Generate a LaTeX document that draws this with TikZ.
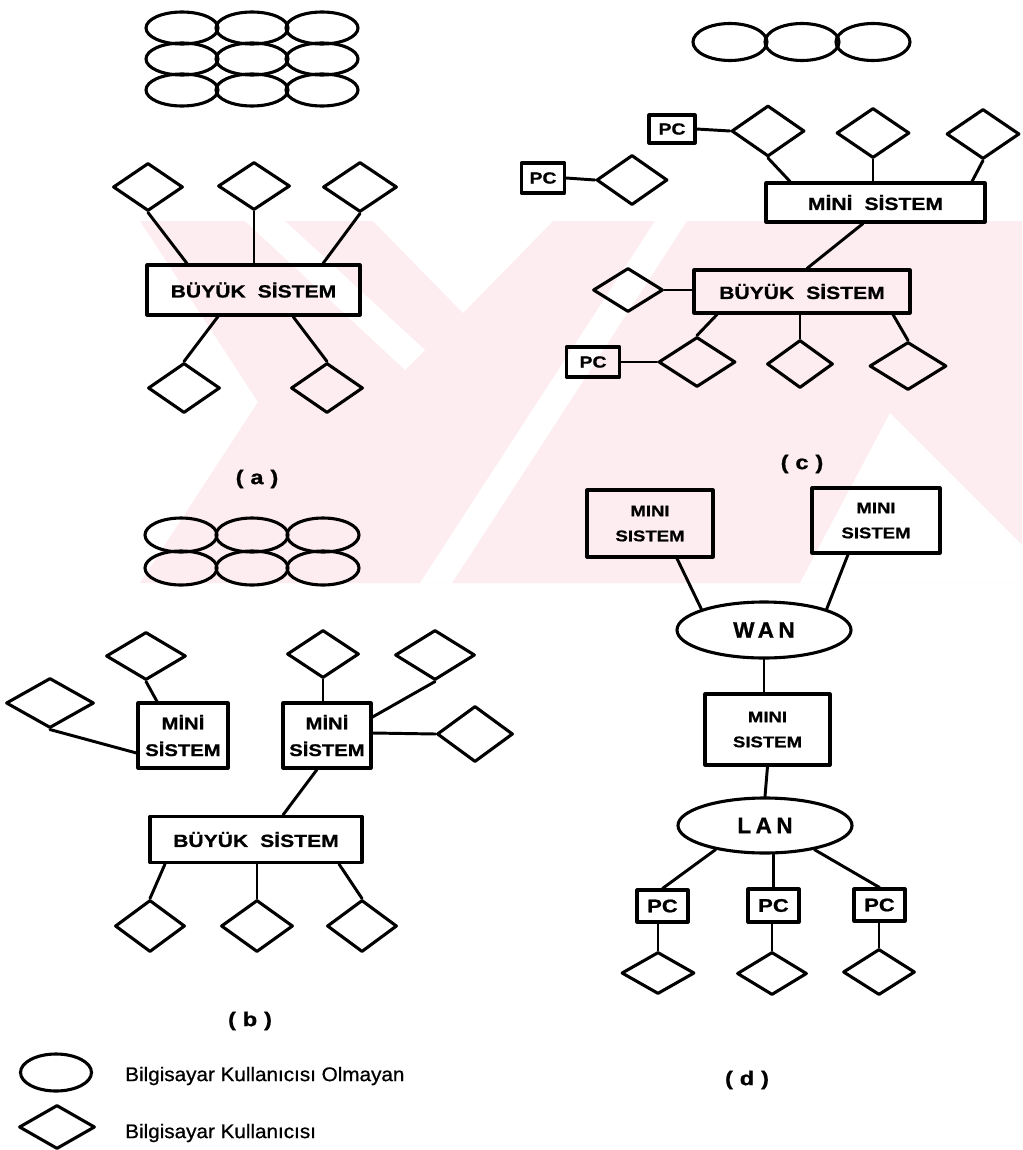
\documentclass[tikz,border=0pt]{standalone}
\usepackage{fontspec}
\setmainfont{Liberation Sans}
\newfontfamily\lblfont{Liberation Sans}[FakeStretch=1.2, FakeBold=1]
\newfontfamily\wanfont{Liberation Sans}[LetterSpace=20, FakeBold=1]
\newfontfamily\legfont{Liberation Sans}[FakeStretch=1.05, FakeBold=0.8]
\usetikzlibrary{shapes.geometric}
\newcommand\pxu{0.025cm}
\definecolor{wm}{RGB}{253,236,240}
\tikzset{
  every node/.style={inner sep=0pt},
  lw/.style={line width=2.2pt, line join=round},
  cn/.style={line width=2.1pt, line cap=round},
  dia/.style args={#1/#2}{draw, diamond, lw, minimum width=#1*\pxu, minimum height=#2*\pxu},
  ell/.style args={#1/#2}{draw, ellipse, lw, minimum width=#1*\pxu, minimum height=#2*\pxu},
  box/.style args={#1/#2}{draw, rectangle, lw, minimum width=#1*\pxu, minimum height=#2*\pxu, align=center},
  bigtxt/.style={font=\lblfont\bfseries\fontsize{12.5}{15}\selectfont},
  minib/.style={font=\lblfont\bfseries\fontsize{12}{19}\selectfont},
  minid/.style={font=\lblfont\bfseries\fontsize{11}{17.8}\selectfont},
  pcc/.style={font=\lblfont\bfseries\fontsize{11.5}{13}\selectfont},
  pcd/.style={font=\lblfont\bfseries\fontsize{13}{15}\selectfont},
  net/.style={font=\wanfont\bfseries\fontsize{16}{18}\selectfont},
  lab/.style={font=\lblfont\bfseries\fontsize{14}{16}\selectfont},
  leg/.style={anchor=west, font=\legfont\fontsize{14}{16}\selectfont}
}
\begin{document}
\begin{tikzpicture}[x=0.025cm, y=-0.025cm]
\fill[white] (0,0) rectangle (1022,1150);
\useasboundingbox (0,0) rectangle (1022,1150);
% watermark
\fill[wm] (140,221) -- (1022,221) -- (1022,583) -- (140,583) -- (258,402) -- cycle;
\fill[white] (373,221) -- (553,221) -- (463,313) -- cycle;
\fill[white] (245,221) -- (285,221) -- (425,350) -- (405,370) -- cycle;
\fill[white] (420,583) -- (452,583) -- (687,221) -- (655,221) -- cycle;
\fill[white] (890,413) -- (1022,545) -- (1022,583) -- (800,583) -- cycle;

% ---------------- (a)
\foreach \r/\yy in {1/28,2/59,3/90}{
  \foreach \c/\xx in {1/182,2/252,3/322}{
    \node[ell=72/32] (ea\r\c) at (\xx,\yy) {};
  }
}
\node[dia=70/48] (da1) at (148,187) {};
\node[dia=72/48] (da2) at (254,186) {};
\node[dia=74/50] (da3) at (360,187) {};
\node[box=213/50, bigtxt] (bA) at (253.5,290) {BÜYÜK\hspace{0.35em} SİSTEM};
\node[dia=72/50] (da4) at (184,388) {};
\node[dia=72/50] (da5) at (327,388) {};
\draw[cn] (da1.south) -- (187,0 |- bA.north);
\draw[cn] (da2.south) -- (254,0 |- bA.north);
\draw[cn] (da3.south) -- (323,0 |- bA.north);
\draw[cn] (218,0 |- bA.south) -- (da4.north);
\draw[cn] (293,0 |- bA.south) -- (da5.north);
\node[lab] (la) at (257,479) {(\hspace{0.35em}a\hspace{0.35em})};

% ---------------- (b)
\foreach \r/\yy in {1/535,2/568}{
  \foreach \c/\xx in {1/181,2/252,3/323}{
    \node[ell=72/34] (eb\r\c) at (\xx,\yy) {};
  }
}
\node[dia=80/48] (db1) at (146,656) {};
\node[dia=88/50] (db2) at (50,703) {};
\node[dia=72/48] (db3) at (323,654) {};
\node[dia=80/50] (db4) at (435,655) {};
\node[dia=76/56] (db5) at (475,734) {};
\node[box=90/65, minib] (mb1) at (183,735.5) {MİNİ\\SİSTEM};
\node[box=88/65, minib] (mb2) at (327,735.5) {MİNİ\\SİSTEM};
\node[box=212/46, bigtxt] (bB) at (256,839.5) {BÜYÜK\hspace{0.35em} SİSTEM};
\node[dia=70/52] (db6) at (150,926) {};
\node[dia=72/52] (db7) at (257,926) {};
\node[dia=70/52] (db8) at (362,926) {};
\draw[cn] (db1.south) -- (157,0 |- mb1.north);
\draw[cn] (db2.south) -- (mb1.west |- 0,753);
\draw[cn] (db3.south) -- (db3.south |- mb2.north);
\draw[cn] (mb2.east |- 0,717) -- (db4.south);
\draw[cn] (mb2.east |- 0,733) -- (db5.west);
\draw[cn] (317,0 |- mb2.south) -- (283,0 |- bB.north);
\draw[cn] (165,0 |- bB.south) -- (db6.north);
\draw[cn] (db7.north |- bB.south) -- (db7.north);
\draw[cn] (339,0 |- bB.south) -- (db8.north);
\node[lab] (lb) at (250,1021) {(\hspace{0.35em}b\hspace{0.35em})};

% legend
\node[ell=71/37] (lge) at (56,1072.5) {};
\node[leg] (lgt1) at (125,1076) {Bilgisayar Kullanıcısı Olmayan};
\node[dia=76/44] (lgd) at (57,1127) {};
\node[leg] (lgt2) at (125,1133) {Bilgisayar Kullanıcısı};

% ---------------- (c)
\node[ell=74/37] (ec1) at (730,42) {};
\node[ell=74/37] (ec2) at (802,42) {};
\node[ell=74/37] (ec3) at (873,42) {};
\node[dia=73/51] (dc1) at (768,131) {};
\node[dia=73/50] (dc2) at (873,133) {};
\node[dia=73/50] (dc3) at (983,134) {};
\node[dia=71/50] (dc4) at (632,180) {};
\node[box=46/28, pcc] (pc1) at (672,129) {PC};
\node[box=43/30, pcc] (pc2) at (543,178) {PC};
\node[box=219/39, bigtxt] (mc) at (875.5,202.5) {MİNİ\hspace{0.35em} SİSTEM};
\node[box=216/43, bigtxt] (bc) at (802,291.5) {BÜYÜK\hspace{0.35em} SİSTEM};
\node[dia=70/44] (dc5) at (628,290) {};
\node[dia=77/50] (dc6) at (697,362) {};
\node[dia=66/48] (dc7) at (800,364) {};
\node[dia=77/48] (dc8) at (908,366) {};
\node[box=53/30, pcc] (pc3) at (593,362) {PC};
\draw[cn] (pc1.east) -- (dc1.west);
\draw[cn] (pc2.east) -- (dc4.west);
\draw[cn] (dc1.south) -- (790,0 |- mc.north);
\draw[cn] (dc2.south) -- (dc2.south |- mc.north);
\draw[cn] (dc3.south) -- (972,0 |- mc.north);
\draw[cn] (863,0 |- mc.south) -- (807,0 |- bc.north);
\draw[cn] (dc5.east) -- (dc5.east -| bc.west);
\draw[cn] (717,0 |- bc.south) -- (dc6.north);
\draw[cn] (pc3.east) -- (dc6.west);
\draw[cn] (dc7.north |- bc.south) -- (dc7.north);
\draw[cn] (893,0 |- bc.south) -- (dc8.north);
\node[lab] (lc) at (802,464) {(\hspace{0.35em}c\hspace{0.35em})};

% ---------------- (d)
\node[box=126/67, minid] (md1) at (650,523.5) {MINI\\SISTEM};
\node[box=128/65, minid] (md2) at (876,520.5) {MINI\\SISTEM};
\node[ell=174/56, net] (wan) at (764,630) {WAN};
\node[box=125/71, minid] (md3) at (767.5,729.5) {MINI\\SISTEM};
\node[ell=174/55, net] (lan) at (765,825.5) {LAN};
\node[box=51/32, pcd] (pd1) at (662.5,906) {PC};
\node[box=51/33, pcd] (pd2) at (773.5,905.5) {PC};
\node[box=51/32, pcd] (pd3) at (879.5,905) {PC};
\node[dia=73/42] (dd1) at (658,973) {};
\node[dia=70/43] (dd2) at (772,973.5) {};
\node[dia=72/46] (dd3) at (879,972) {};
\draw[cn] (677,0 |- md1.south) -- (wan.north west);
\draw[cn] (848,0 |- md2.south) -- (wan.north east);
\draw[cn] (wan.south) -- (wan.south |- md3.north);
\draw[cn] (md3.south) -- (lan.north);
\draw[cn] (lan.206) -- (pd1.north);
\draw[cn] (pd2.north |- lan.south) -- (pd2.north);
\draw[cn] (lan.334) -- (pd3.north);
\draw[cn] (dd1.north |- pd1.south) -- (dd1.north);
\draw[cn] (dd2.north |- pd2.south) -- (dd2.north);
\draw[cn] (dd3.north |- pd3.south) -- (dd3.north);
\node[lab] (ld) at (747,1080) {(\hspace{0.35em}d\hspace{0.35em})};
\end{tikzpicture}
\end{document}
